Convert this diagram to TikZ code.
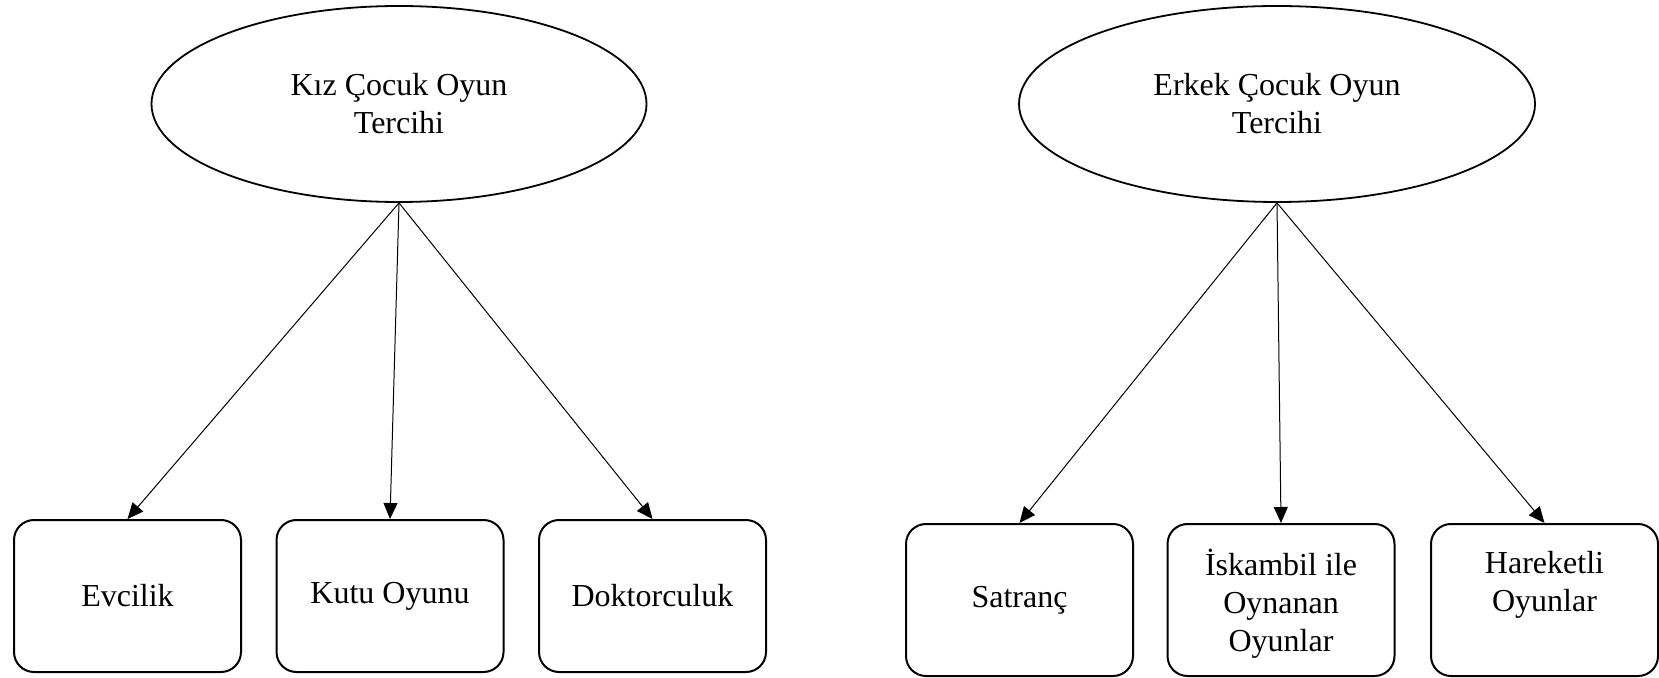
\documentclass[tikz,border=0pt]{standalone}
\usepackage{fontspec}
\setmainfont{Liberation Serif}
\usetikzlibrary{shapes.geometric,arrows.meta}
\begin{document}
\begin{tikzpicture}[x=0.5pt,y=-0.5pt,
  oval/.style={draw,ellipse,line width=0.9pt,minimum height=98pt,inner sep=0pt,align=center,font=\fontsize{16}{19}\selectfont},
  card/.style={draw,rounded corners=10pt,line width=1pt,minimum width=113.5pt,minimum height=76pt,inner sep=0pt,align=center,font=\fontsize{16}{19}\selectfont},
  link/.style={line width=0.5pt,-{Triangle[length=8pt,width=7pt]}}]
\useasboundingbox (0,0) rectangle (1659,678);
\node[oval,minimum width=247.5pt] (kiz) at (399,104) {Kız Çocuk Oyun\\Tercihi};
\node[oval,minimum width=258pt] (erk) at (1277,104) {Erkek Çocuk Oyun\\Tercihi};
\node[card] (evc) at (127.5,596) {Evcilik};
\node[card] (kutu) at (390,596) {Kutu Oyunu};
\node[card] (dok) at (652.5,596) {Doktorculuk};
\node[card] (sat) at (1019.5,600) {Satranç};
\node[card,text depth=0pt] (isk) at (1281,600) {İskambil ile\\Oynanan\\Oyunlar};
\node[card,text depth=0pt] (har) at (1544.5,600) {Hareketli\\Oyunlar\\\phantom{Oyunlar}};
\draw[link] (kiz.south) -- (evc.north);
\draw[link] (kiz.south) -- (kutu.north);
\draw[link] (kiz.south) -- (dok.north);
\draw[link] (erk.south) -- (sat.north);
\draw[link] (erk.south) -- (isk.north);
\draw[link] (erk.south) -- (har.north);
\end{tikzpicture}
\end{document}
